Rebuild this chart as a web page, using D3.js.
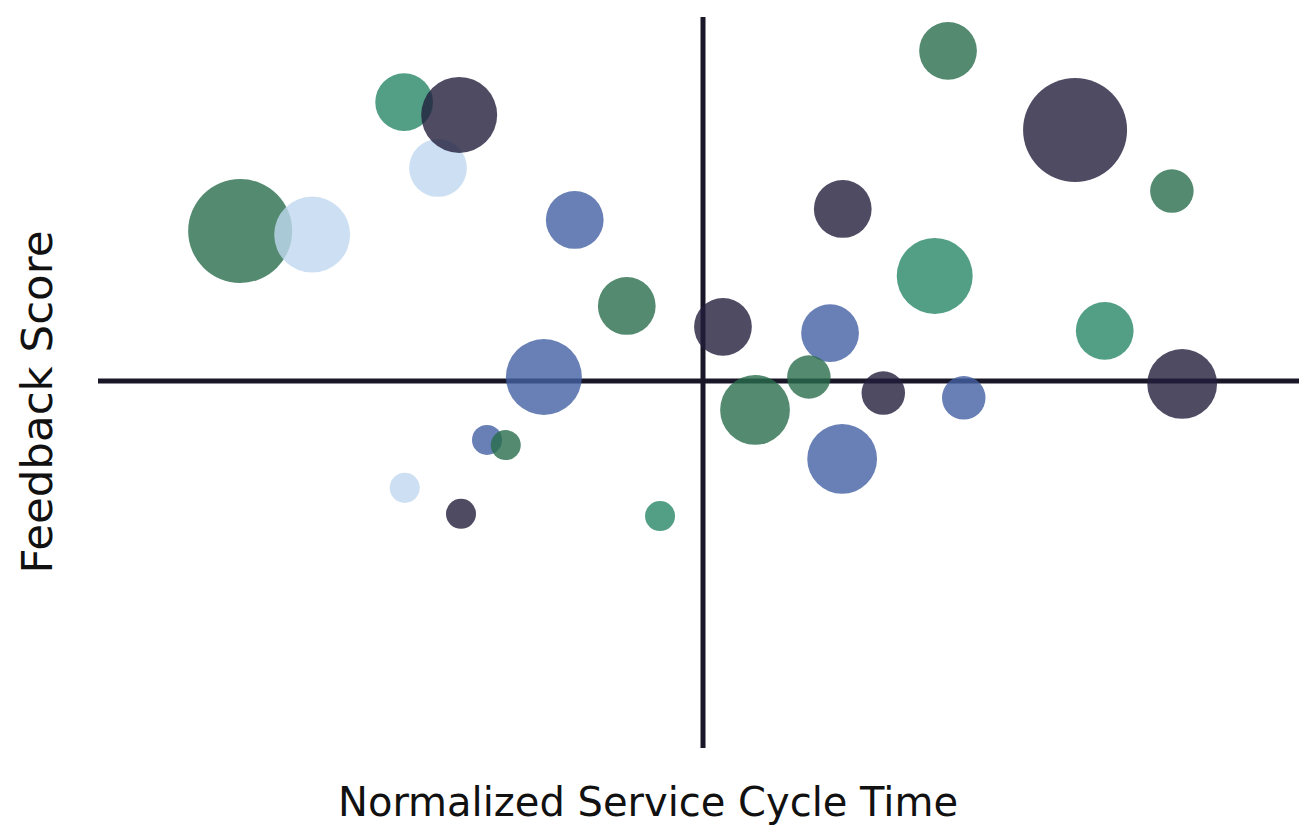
<!DOCTYPE html>
<html>
<head>
<meta charset="utf-8">
<script src="https://cdn.jsdelivr.net/npm/d3@7"></script>
<style>
  body { margin: 0; background: #fff; }
  text { font-family: 'DejaVu Sans', sans-serif; fill: #111; }
</style>
</head>
<body>
<svg id="chart"></svg>
<script>
var width = 1299;
var height = 827;

// bubble data
var groups = ['navy', 'forest', 'teal', 'blue', 'sky'];
var groupColors = ['#221e3c', '#286d4c', '#278768', '#4260a2', '#c0d8f0'];

var cycleTime = [-0.765, -0.646, -0.494, -0.438, -0.403, -0.212, -0.126, -0.263, -0.357, -0.326, -0.493, -0.4, -0.071,
  0.033, 0.21, 0.175, 0.086, 0.298, 0.431, 0.23, 0.405, 0.615, 0.775, 0.383, 0.664, 0.792, 0.231];
var feedback = [0.41, 0.40, 0.762, 0.582, 0.727, 0.44, 0.205, 0.011, -0.161, -0.175, -0.292, -0.363, -0.369,
  0.148, 0.131, 0.011, -0.079, -0.033, -0.046, -0.213, 0.902, 0.686, 0.519, 0.287, 0.137, -0.008, 0.47];
var volume = [120, 64, 37, 37, 64, 37, 37, 64, 10, 10, 10, 10, 10,
  37, 37, 21, 54, 21, 21, 54, 37, 120, 21, 64, 37, 54, 37];
var group = ['forest', 'sky', 'teal', 'sky', 'navy', 'blue', 'forest', 'blue', 'blue', 'forest', 'sky', 'navy', 'teal',
  'navy', 'blue', 'forest', 'forest', 'navy', 'blue', 'blue', 'forest', 'navy', 'forest', 'teal', 'teal', 'navy', 'navy'];

var bubbles = cycleTime.map((d, i) => ({
  x: d,
  y: feedback[i],
  size: volume[i],
  group: group[i]
}));

var svg = d3.select('#chart')
  .attr('width', width)
  .attr('height', height);

var xScale = d3.scaleLinear()
  .domain([-1, 1])
  .range([98, 1308]);

var yScale = d3.scaleLinear()
  .domain([-1, 1])
  .range([747, 15]);

var rScale = d3.scaleSqrt()
  .domain([0, 120])
  .range([0, 52]);

var color = d3.scaleOrdinal()
  .domain(groups)
  .range(groupColors);

// quadrant lines
svg.append('line')
  .attr('x1', xScale(-1))
  .attr('x2', width)
  .attr('y1', yScale(0))
  .attr('y2', yScale(0))
  .attr('stroke', '#1a1828')
  .attr('stroke-width', 5);

svg.append('line')
  .attr('x1', xScale(0))
  .attr('x2', xScale(0))
  .attr('y1', yScale(-1) + 1)
  .attr('y2', yScale(1) + 2)
  .attr('stroke', '#1a1828')
  .attr('stroke-width', 5);

svg.selectAll('circle')
  .data(bubbles)
  .enter()
  .append('circle')
  .attr('cx', d => xScale(d.x))
  .attr('cy', d => yScale(d.y))
  .attr('r', d => rScale(d.size))
  .attr('fill', d => color(d.group))
  .attr('fill-opacity', 0.8);

svg.append('text')
  .attr('x', 648)
  .attr('y', 816)
  .style('text-anchor', 'middle')
  .style('font-size', '40px')
  .text('Normalized Service Cycle Time');

svg.append('text')
  .attr('transform', 'rotate(-90)')
  .attr('x', -402)
  .attr('y', 52)
  .style('text-anchor', 'middle')
  .style('font-size', '43.5px')
  .text('Feedback Score');
</script>
</body>
</html>
